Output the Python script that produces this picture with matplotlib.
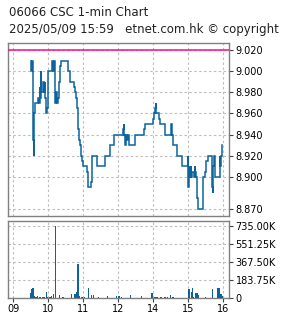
import matplotlib
matplotlib.use("Agg")
import matplotlib.pyplot as plt

# ---------------- data ----------------
title_line1 = "06066 CSC 1-min Chart"
title_line2 = "2025/05/09 15:59   etnet.com.hk \u00a9 copyright"

prev_close = 9.020

price_times = ["09:30", "09:31", "09:32", "09:33", "09:34", "09:35", "09:36", "09:37",
               "09:43", "09:44", "09:45", "09:46", "09:47", "09:48", "09:51", "09:53",
               "09:54", "09:55", "09:56", "09:58", "09:59", "10:00", "10:07", "10:08",
               "10:10", "10:12", "10:14", "10:15", "10:17", "10:19", "10:20", "10:22",
               "10:33", "10:38", "10:44", "10:46", "10:47", "10:49", "10:51", "10:52",
               "10:54", "10:56", "10:57", "10:59", "11:07", "11:08", "11:13", "11:15",
               "11:23", "11:37", "11:45", "11:52", "13:08", "13:09", "13:10", "13:12",
               "13:13", "13:15", "13:16", "13:18", "13:28", "13:29", "13:44", "13:45",
               "13:59", "14:01", "14:03", "14:04", "14:05", "14:10", "14:11", "14:20",
               "14:30", "14:32", "14:34", "14:40", "14:50", "14:59", "15:00", "15:01",
               "15:02", "15:04", "15:05", "15:07", "15:09", "15:11", "15:12", "15:13",
               "15:15", "15:16", "15:25", "15:28", "15:30", "15:31", "15:33", "15:40",
               "15:41", "15:42", "15:43", "15:44", "15:45", "15:54", "15:55", "15:56",
               "15:57", "15:58"]
price_values = [9.010, 9.000, 9.010, 8.950, 8.935, 8.920, 8.960, 8.970,
                8.975, 8.970, 8.985, 8.975, 9.000, 8.980, 8.990, 8.980,
                8.990, 8.975, 8.960, 8.965, 8.975, 9.000, 9.010, 9.000,
                9.010, 8.970, 8.980, 8.970, 8.975, 8.990, 9.005, 9.010,
                9.000, 8.990, 8.985, 8.980, 8.975, 8.965, 8.945, 8.935,
                8.930, 8.920, 8.915, 8.910, 8.905, 8.890, 8.895, 8.920,
                8.910, 8.920, 8.930, 8.940, 8.945, 8.950, 8.940, 8.930,
                8.940, 8.935, 8.940, 8.930, 8.935, 8.940, 8.945, 8.950,
                8.955, 8.960, 8.965, 8.970, 8.960, 8.955, 8.950, 8.940,
                8.950, 8.940, 8.930, 8.920, 8.910, 8.920, 8.890, 8.910,
                8.900, 8.910, 8.900, 8.905, 8.900, 8.910, 8.905, 8.900,
                8.880, 8.870, 8.900, 8.905, 8.910, 8.915, 8.920, 8.910,
                8.890, 8.885, 8.910, 8.920, 8.900, 8.920, 8.910, 8.920,
                8.925, 8.930]

vol_times = ["09:30", "09:31", "09:32", "09:34", "09:36", "09:39", "09:42", "09:45",
             "09:47", "09:51", "09:54", "09:57", "09:59", "10:03", "10:06", "10:09",
             "10:12", "10:19", "10:24", "10:26", "10:40", "10:46", "10:49", "10:51",
             "10:54", "10:58", "10:59", "11:02", "11:09", "11:14", "11:17", "11:26",
             "11:41", "11:57", "13:01", "13:05", "13:21", "13:40", "13:58", "14:03",
             "14:05", "14:07", "14:13", "14:20", "14:24", "14:29", "14:34", "15:01",
             "15:05", "15:07", "15:09", "15:12", "15:15", "15:17", "15:29", "15:41",
             "15:50", "15:51", "15:53", "15:56", "15:58"]
vol_values_k = [51, 78, 88, 95, 17, 7, 17, 7,
                7, 7, 7, 58, 7, 4, 17, 37,
                735, 27, 7, 7, 37, 37, 58, 343,
                17, 10, 10, 7, 99, 27, 27, 7,
                17, 14, 17, 7, 27, 14, 48, 7,
                7, 7, 7, 7, 7, 27, 7, 88,
                58, 99, 7, 48, 48, 27, 7, 88,
                27, 99, 99, 37, 14]

price_ticks = [8.870, 8.900, 8.920, 8.940, 8.960, 8.980, 9.000, 9.020]
vol_ticks_k = [0, 183.75, 367.50, 551.25, 735.00]
vol_tick_labels = ["0", "183.75K", "367.50K", "551.25K", "735.00K"]
hour_times = ["09:00", "10:00", "11:00", "12:00", "14:00", "15:00", "16:00"]
hour_labels = ["09", "10", "11", "12", "14", "15", "16"]


def tmin(s):
    h, m = map(int, s.split(":"))
    v = (h - 9) * 60 + m
    if h >= 13:
        v -= 60  # lunch break removed
    return v


# ---------------- style ----------------
BLUE = "#0b64a0"
PINK = "#ff0a82"
FRAME = "#808080"
GRID = "#bdbdbd"
FS = 7.0

plt.rcParams["font.family"] = ["DejaVu Sans"]

W, H = 285, 318
fig = plt.figure(figsize=(W / 100, H / 100), dpi=100)
fig.patch.set_facecolor("white")

def ax_rect(l, t, r, b):
    return [l / W, 1 - b / H, (r - l) / W, (b - t) / H]

ax1 = fig.add_axes(ax_rect(8.3, 42.7, 229.3, 216.3))
ax2 = fig.add_axes(ax_rect(8.3, 221.0, 229.3, 297.7))

xlim = (-8.6, 370.3)
hx = [tmin(s) for s in hour_times]

for ax in (ax1, ax2):
    ax.set_xlim(*xlim)
    for sp in ax.spines.values():
        sp.set_color(FRAME)
        sp.set_linewidth(1.0)
    ax.yaxis.tick_right()
    ax.tick_params(axis="y", which="both", direction="out", length=3, width=0.8,
                   color="#404040", labelsize=FS, pad=1.5, left=False)
    ax.tick_params(axis="x", which="both", direction="out", length=3, width=0.8,
                   color="#404040", labelsize=FS, pad=1.5)
    ax.set_xticks(hx)
    ax.grid(True, color=GRID, linestyle=(0, (2.2, 2.2)), linewidth=0.8)
    ax.set_axisbelow(True)

# price panel
px = [tmin(s) for s in price_times]
ax1.plot(px, price_values, drawstyle="steps-post", color=BLUE, linewidth=1.1,
         solid_joinstyle="miter", zorder=3)
ax1.axhline(prev_close, color=PINK, linewidth=1.1, zorder=4)
ax1.set_ylim(8.8627, 9.027)
ax1.set_yticks(price_ticks)
ax1.set_yticklabels(["%.3f" % v for v in price_ticks])
ax1.tick_params(axis="x", labelbottom=False, length=0)

# volume panel
vx = [tmin(s) for s in vol_times]
ax2.bar(vx, vol_values_k, width=2.3, color=BLUE, linewidth=0, zorder=3)
ax2.set_ylim(0, 783)
ax2.set_yticks(vol_ticks_k)
ax2.set_yticklabels(vol_tick_labels)
ax2.set_xticklabels(hour_labels)

fig.text(9 / W, 1 - 12 / H, title_line1, fontsize=8.5, va="center", ha="left", color="#222222")
fig.text(9 / W, 1 - 29.3 / H, title_line2, fontsize=8.5, va="center", ha="left", color="#222222")

fig.savefig("out.png", dpi=100, facecolor="white")
